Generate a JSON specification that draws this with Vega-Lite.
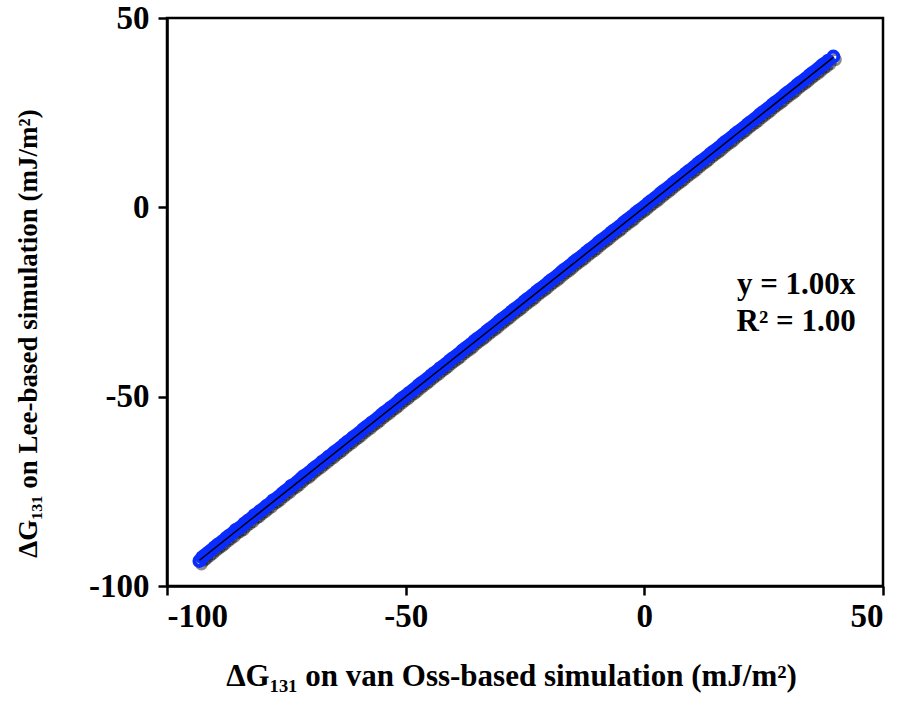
{
  "$schema": "https://vega.github.io/schema/vega-lite/v6.json",
  "width": 716,
  "height": 568,
  "autosize": {"type": "none"},
  "padding": {"left": 167, "top": 18, "right": 18, "bottom": 120},
  "background": "white",
  "config": {
    "font": "Liberation Serif",
    "view": {"stroke": "black", "strokeWidth": 2.5},
    "axis": {
      "grid": false,
      "domainColor": "black",
      "domainWidth": 2.5,
      "tickColor": "black",
      "tickWidth": 2.5,
      "tickSize": 9,
      "labelFont": "Liberation Serif",
      "labelFontWeight": "bold",
      "labelFontSize": 33,
      "labelColor": "black",
      "labelExpr": "'' + datum.value",
      "titleFont": "Liberation Serif",
      "titleFontWeight": "bold",
      "titleColor": "black"
    }
  },
  "datasets": {
    "pts": [
      {"x": -93.2, "y": -93.4}, {"x": -92.6, "y": -92.4}, {"x": -92.1, "y": -91.9}, {"x": -91.4, "y": -91.2},
      {"x": -90.8, "y": -90.6}, {"x": -90.1, "y": -89.8}, {"x": -89.5, "y": -89.2}, {"x": -88.9, "y": -88.7},
      {"x": -88.3, "y": -88.1}, {"x": -87.6, "y": -87.3}, {"x": -87.0, "y": -86.7}, {"x": -86.3, "y": -86.1},
      {"x": -85.6, "y": -85.2}, {"x": -85.0, "y": -84.8}, {"x": -84.4, "y": -84.3}, {"x": -83.8, "y": -83.5},
      {"x": -83.1, "y": -82.8}, {"x": -82.4, "y": -82.2}, {"x": -81.7, "y": -81.3}, {"x": -81.1, "y": -80.9},
      {"x": -80.5, "y": -80.2}, {"x": -79.8, "y": -79.6}, {"x": -79.2, "y": -78.9}, {"x": -78.5, "y": -78.3},
      {"x": -77.8, "y": -77.4}, {"x": -77.2, "y": -77.0}, {"x": -76.6, "y": -76.4}, {"x": -75.9, "y": -75.6},
      {"x": -75.3, "y": -75.0}, {"x": -74.6, "y": -74.4}, {"x": -74.0, "y": -73.6}, {"x": -73.3, "y": -73.1},
      {"x": -72.7, "y": -72.5}, {"x": -72.0, "y": -71.7}, {"x": -71.4, "y": -71.0}, {"x": -70.7, "y": -70.5},
      {"x": -70.1, "y": -69.9}, {"x": -69.4, "y": -69.1}, {"x": -68.8, "y": -68.5}, {"x": -68.1, "y": -67.9},
      {"x": -67.5, "y": -67.2}, {"x": -66.8, "y": -66.6}, {"x": -66.2, "y": -65.9}, {"x": -65.5, "y": -65.3},
      {"x": -64.9, "y": -64.6}, {"x": -64.2, "y": -64.0}, {"x": -63.6, "y": -63.4}, {"x": -62.9, "y": -62.6},
      {"x": -62.3, "y": -62.0}, {"x": -61.6, "y": -61.4}, {"x": -61.0, "y": -60.7}, {"x": -60.3, "y": -60.1},
      {"x": -59.7, "y": -59.5}, {"x": -59.0, "y": -58.7}, {"x": -58.4, "y": -58.1}, {"x": -57.7, "y": -57.5},
      {"x": -57.1, "y": -56.8}, {"x": -56.4, "y": -56.2}, {"x": -55.8, "y": -55.6}, {"x": -55.1, "y": -54.8},
      {"x": -54.5, "y": -54.2}, {"x": -53.8, "y": -53.6}, {"x": -53.2, "y": -52.9}, {"x": -52.5, "y": -52.3},
      {"x": -51.9, "y": -51.7}, {"x": -51.2, "y": -50.9}, {"x": -50.6, "y": -50.3}, {"x": -49.9, "y": -49.7},
      {"x": -49.3, "y": -49.0}, {"x": -48.6, "y": -48.4}, {"x": -48.0, "y": -47.8}, {"x": -47.3, "y": -47.0},
      {"x": -46.7, "y": -46.4}, {"x": -46.0, "y": -45.8}, {"x": -45.4, "y": -45.2}, {"x": -44.7, "y": -44.4},
      {"x": -44.1, "y": -43.8}, {"x": -43.4, "y": -43.2}, {"x": -42.8, "y": -42.5}, {"x": -42.1, "y": -41.9},
      {"x": -41.5, "y": -41.3}, {"x": -40.8, "y": -40.5}, {"x": -40.2, "y": -39.9}, {"x": -39.5, "y": -39.3},
      {"x": -38.9, "y": -38.7}, {"x": -38.2, "y": -37.9}, {"x": -37.6, "y": -37.3}, {"x": -36.9, "y": -36.7},
      {"x": -36.3, "y": -36.1}, {"x": -35.6, "y": -35.3}, {"x": -35.0, "y": -34.7}, {"x": -34.3, "y": -34.1},
      {"x": -33.7, "y": -33.5}, {"x": -33.0, "y": -32.7}, {"x": -32.4, "y": -32.1}, {"x": -31.7, "y": -31.5},
      {"x": -31.1, "y": -30.9}, {"x": -30.4, "y": -30.1}, {"x": -29.8, "y": -29.5}, {"x": -29.1, "y": -28.9},
      {"x": -28.5, "y": -28.3}, {"x": -27.8, "y": -27.5}, {"x": -27.2, "y": -26.9}, {"x": -26.5, "y": -26.3},
      {"x": -25.9, "y": -25.7}, {"x": -25.2, "y": -24.9}, {"x": -24.6, "y": -24.3}, {"x": -23.9, "y": -23.7},
      {"x": -23.3, "y": -23.1}, {"x": -22.6, "y": -22.3}, {"x": -22.0, "y": -21.7}, {"x": -21.3, "y": -21.1},
      {"x": -20.7, "y": -20.5}, {"x": -20.0, "y": -19.7}, {"x": -19.4, "y": -19.1}, {"x": -18.7, "y": -18.5},
      {"x": -18.1, "y": -17.9}, {"x": -17.4, "y": -17.1}, {"x": -16.8, "y": -16.5}, {"x": -16.1, "y": -15.9},
      {"x": -15.5, "y": -15.3}, {"x": -14.8, "y": -14.5}, {"x": -14.2, "y": -13.9}, {"x": -13.5, "y": -13.3},
      {"x": -12.9, "y": -12.7}, {"x": -12.2, "y": -11.9}, {"x": -11.6, "y": -11.3}, {"x": -10.9, "y": -10.7},
      {"x": -10.3, "y": -10.1}, {"x": -9.6, "y": -9.3}, {"x": -9.0, "y": -8.7}, {"x": -8.3, "y": -8.1},
      {"x": -7.7, "y": -7.5}, {"x": -7.0, "y": -6.7}, {"x": -6.4, "y": -6.1}, {"x": -5.7, "y": -5.5},
      {"x": -5.1, "y": -4.9}, {"x": -4.4, "y": -4.1}, {"x": -3.8, "y": -3.5}, {"x": -3.1, "y": -2.9},
      {"x": -2.5, "y": -2.3}, {"x": -1.8, "y": -1.5}, {"x": -1.2, "y": -0.9}, {"x": -0.5, "y": -0.3},
      {"x": 0.1, "y": 0.3}, {"x": 0.8, "y": 1.1}, {"x": 1.4, "y": 1.7}, {"x": 2.1, "y": 2.3},
      {"x": 2.7, "y": 2.9}, {"x": 3.4, "y": 3.7}, {"x": 4.0, "y": 4.3}, {"x": 4.7, "y": 4.9},
      {"x": 5.3, "y": 5.5}, {"x": 6.0, "y": 6.3}, {"x": 6.6, "y": 6.9}, {"x": 7.3, "y": 7.5},
      {"x": 7.9, "y": 8.1}, {"x": 8.6, "y": 8.9}, {"x": 9.2, "y": 9.5}, {"x": 9.9, "y": 10.1},
      {"x": 10.5, "y": 10.7}, {"x": 11.2, "y": 11.5}, {"x": 11.8, "y": 12.1}, {"x": 12.5, "y": 12.7},
      {"x": 13.1, "y": 13.3}, {"x": 13.8, "y": 14.1}, {"x": 14.4, "y": 14.7}, {"x": 15.1, "y": 15.3},
      {"x": 15.7, "y": 15.9}, {"x": 16.4, "y": 16.7}, {"x": 17.0, "y": 17.3}, {"x": 17.7, "y": 17.9},
      {"x": 18.3, "y": 18.5}, {"x": 19.0, "y": 19.3}, {"x": 19.6, "y": 19.9}, {"x": 20.3, "y": 20.5},
      {"x": 20.9, "y": 21.1}, {"x": 21.6, "y": 21.9}, {"x": 22.2, "y": 22.5}, {"x": 22.9, "y": 23.1},
      {"x": 23.5, "y": 23.7}, {"x": 24.2, "y": 24.5}, {"x": 24.8, "y": 25.1}, {"x": 25.5, "y": 25.7},
      {"x": 26.1, "y": 26.3}, {"x": 26.8, "y": 27.1}, {"x": 27.4, "y": 27.7}, {"x": 28.1, "y": 28.3},
      {"x": 28.7, "y": 28.9}, {"x": 29.4, "y": 29.7}, {"x": 30.0, "y": 30.3}, {"x": 30.7, "y": 30.9},
      {"x": 31.3, "y": 31.5}, {"x": 32.0, "y": 32.3}, {"x": 32.6, "y": 32.9}, {"x": 33.3, "y": 33.5},
      {"x": 33.9, "y": 34.1}, {"x": 34.6, "y": 34.9}, {"x": 35.2, "y": 35.5}, {"x": 35.9, "y": 36.1},
      {"x": 36.5, "y": 36.7}, {"x": 37.2, "y": 37.5}, {"x": 37.8, "y": 38.0}, {"x": 38.5, "y": 38.7},
      {"x": 39.6, "y": 39.8}
    ],
    "fit": [
      {"x": -93.2, "y": -93.2},
      {"x": 39.6, "y": 39.6}
    ],
    "notes": [
      {"x": 31.8, "y": -20.5, "label": "y = 1.00x"},
      {"x": 31.8, "y": -30.3, "label": "R² = 1.00"}
    ]
  },
  "layer": [
    {
      "data": {"name": "pts"},
      "mark": {"type": "point", "shape": "circle", "filled": false, "size": 100, "strokeWidth": 3, "stroke": "#000000", "opacity": 0.45, "xOffset": 2, "yOffset": 3},
      "encoding": {
        "x": {
          "field": "x", "type": "quantitative",
          "scale": {"domain": [-100, 50], "nice": false, "zero": false},
          "axis": {"values": [-100, -50, 0, 50], "labelPadding": 5, "titlePadding": 28, "titleFontSize": 31, "titleX": 344,
                   "title": "ΔG₁₃₁ on van Oss-based simulation (mJ/m²)"}
        },
        "y": {
          "field": "y", "type": "quantitative",
          "scale": {"domain": [-100, 50], "nice": false, "zero": false},
          "axis": {"values": [-100, -50, 0, 50], "labelPadding": 9, "titlePadding": 46, "titleFontSize": 27, "titleY": 315,
                   "title": "ΔG₁₃₁ on Lee-based simulation (mJ/m²)"}
        }
      }
    },
    {
      "data": {"name": "pts"},
      "mark": {"type": "point", "shape": "circle", "filled": false, "size": 100, "strokeWidth": 4, "stroke": "#0a2cff", "opacity": 1},
      "encoding": {
        "x": {"field": "x", "type": "quantitative"},
        "y": {"field": "y", "type": "quantitative"}
      }
    },
    {
      "data": {"name": "fit"},
      "mark": {"type": "line", "color": "black", "strokeWidth": 1.5},
      "encoding": {
        "x": {"field": "x", "type": "quantitative"},
        "y": {"field": "y", "type": "quantitative"}
      }
    },
    {
      "data": {"name": "notes"},
      "mark": {"type": "text", "font": "Liberation Serif", "fontWeight": "bold", "fontSize": 31, "align": "center", "baseline": "middle", "color": "black"},
      "encoding": {
        "x": {"field": "x", "type": "quantitative"},
        "y": {"field": "y", "type": "quantitative"},
        "text": {"field": "label"}
      }
    }
  ]
}
